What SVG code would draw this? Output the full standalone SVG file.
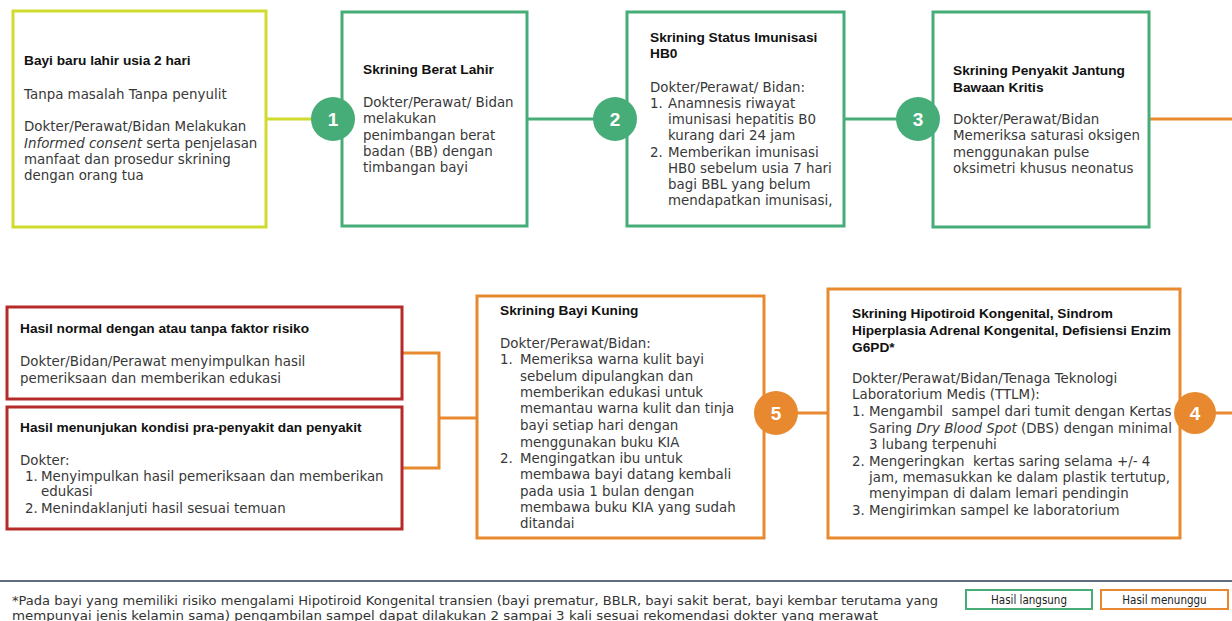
<svg xmlns="http://www.w3.org/2000/svg" width="1232" height="621" viewBox="0 0 1232 621">
<style>
  .box { fill: #ffffff; stroke-width: 3; }
  .yg { stroke: #cfdc2e; }
  .gr { stroke: #47ad78; }
  .or { stroke: #e8892f; }
  .rd { stroke: #b52b2a; }
  .ttl { font-family: "Liberation Sans", Arial, sans-serif; font-weight: bold; font-size: 13.7px; fill: #111111; }
  .bd { font-family: "DejaVu Sans", "Noto Sans", sans-serif; font-size: 13.4px; fill: #383838; }
  .num { font-family: "Liberation Sans", Arial, sans-serif; font-weight: bold; font-size: 19px; fill: #ffffff; text-anchor: middle; }
  .ln { fill: none; stroke-width: 3; }
  .cg { fill: #47ad78; }
  .co { fill: #e8892f; }
  .ft { font-family: "DejaVu Sans Condensed", "DejaVu Sans", sans-serif; font-size: 12.5px; fill: #333333; }
  .lg { font-family: "DejaVu Sans Condensed", "DejaVu Sans", sans-serif; font-size: 11.5px; fill: #222222; text-anchor: middle; }
</style>

<g id="connectors">
  <line class="ln yg" x1="266" y1="119" x2="315" y2="119"/>
  <line class="ln gr" x1="527" y1="119" x2="597" y2="119"/>
  <line class="ln gr" x1="844" y1="119" x2="900" y2="119"/>
  <line class="ln or" x1="1149" y1="119" x2="1232" y2="119"/>
  <line class="ln or" x1="1210" y1="413" x2="1232" y2="413"/>
  <line class="ln or" x1="790" y1="413" x2="828" y2="413"/>
  <polyline class="ln or" points="402,353 439,353 439,468 402,468"/>
  <line class="ln or" x1="439" y1="418" x2="478" y2="418"/>
</g>

<g id="node-start">
  <rect class="box yg" x="13" y="11" width="253" height="216"/>
  <text class="ttl" x="24" y="65">Bayi baru lahir usia 2 hari</text>
  <text class="bd" x="24" y="99">Tanpa masalah Tanpa penyulit</text>
  <text class="bd" x="24" y="131">Dokter/Perawat/Bidan Melakukan</text>
  <text class="bd" x="24" y="147.5"><tspan font-style="italic">Informed consent</tspan> serta penjelasan</text>
  <text class="bd" x="24" y="164">manfaat dan prosedur skrining</text>
  <text class="bd" x="24" y="180">dengan orang tua</text>
</g>

<g id="node-1">
  <rect class="box gr" x="342" y="12" width="185" height="214"/>
  <text class="ttl" x="363" y="74">Skrining Berat Lahir</text>
  <text class="bd" x="363" y="107">Dokter/Perawat/ Bidan</text>
  <text class="bd" x="363" y="123">melakukan</text>
  <text class="bd" x="363" y="139.5">penimbangan berat</text>
  <text class="bd" x="363" y="155.5">badan (BB) dengan</text>
  <text class="bd" x="363" y="172">timbangan bayi</text>
  <circle class="cg" cx="333" cy="119" r="22"/>
  <text class="num" x="333" y="126">1</text>
</g>

<g id="node-2">
  <rect class="box gr" x="627" y="12" width="217" height="214"/>
  <text class="ttl" x="650" y="42">Skrining Status Imunisasi</text>
  <text class="ttl" x="650" y="58">HB0</text>
  <text class="bd" x="650" y="92">Dokter/Perawat/ Bidan:</text>
  <text class="bd" x="650" y="108">1.</text>
  <text class="bd" x="668" y="108">Anamnesis riwayat</text>
  <text class="bd" x="668" y="124">imunisasi hepatitis B0</text>
  <text class="bd" x="668" y="140">kurang dari 24 jam</text>
  <text class="bd" x="650" y="157">2.</text>
  <text class="bd" x="668" y="157">Memberikan imunisasi</text>
  <text class="bd" x="668" y="173">HB0 sebelum usia 7 hari</text>
  <text class="bd" x="668" y="189">bagi BBL yang belum</text>
  <text class="bd" x="668" y="205">mendapatkan imunisasi,</text>
  <circle class="cg" cx="615" cy="119" r="22"/>
  <text class="num" x="615" y="126">2</text>
</g>

<g id="node-3">
  <rect class="box gr" x="933" y="12" width="216" height="215"/>
  <text class="ttl" x="953" y="75">Skrining Penyakit Jantung</text>
  <text class="ttl" x="953" y="92">Bawaan Kritis</text>
  <text class="bd" x="953" y="124">Dokter/Perawat/Bidan</text>
  <text class="bd" x="953" y="140">Memeriksa saturasi oksigen</text>
  <text class="bd" x="953" y="157">menggunakan pulse</text>
  <text class="bd" x="953" y="173">oksimetri khusus neonatus</text>
  <circle class="cg" cx="918" cy="119" r="22"/>
  <text class="num" x="918" y="126">3</text>
</g>

<g id="node-4">
  <rect class="box or" x="828" y="289" width="352" height="249"/>
  <text class="ttl" x="852" y="318">Skrining Hipotiroid Kongenital, Sindrom</text>
  <text class="ttl" x="852" y="335">Hiperplasia Adrenal Kongenital, Defisiensi Enzim</text>
  <text class="ttl" x="852" y="352">G6PD*</text>
  <text class="bd" x="852" y="383">Dokter/Perawat/Bidan/Tenaga Teknologi</text>
  <text class="bd" x="852" y="399">Laboratorium Medis (TTLM):</text>
  <text class="bd" x="852" y="416">1.</text>
  <text class="bd" x="869" y="416" xml:space="preserve">Mengambil  sampel dari tumit dengan Kertas</text>
  <text class="bd" x="869" y="433">Saring <tspan font-style="italic">Dry Blood Spot</tspan> (DBS) dengan minimal</text>
  <text class="bd" x="869" y="449">3 lubang terpenuhi</text>
  <text class="bd" x="852" y="466">2.</text>
  <text class="bd" x="869" y="466" xml:space="preserve">Mengeringkan  kertas saring selama +/- 4</text>
  <text class="bd" x="869" y="482">jam, memasukkan ke dalam plastik tertutup,</text>
  <text class="bd" x="869" y="498">menyimpan di dalam lemari pendingin</text>
  <text class="bd" x="852" y="515">3.</text>
  <text class="bd" x="869" y="515">Mengirimkan sampel ke laboratorium</text>
  <circle class="co" cx="1195" cy="413" r="21"/>
  <text class="num" x="1195" y="420">4</text>
</g>

<g id="node-5">
  <rect class="box or" x="477" y="296" width="287" height="242"/>
  <text class="ttl" x="500" y="315">Skrining Bayi Kuning</text>
  <text class="bd" x="500" y="348">Dokter/Perawat/Bidan:</text>
  <text class="bd" x="500" y="364">1.</text>
  <text class="bd" x="520" y="364">Memeriksa warna kulit bayi</text>
  <text class="bd" x="520" y="381">sebelum dipulangkan dan</text>
  <text class="bd" x="520" y="397">memberikan edukasi untuk</text>
  <text class="bd" x="520" y="413">memantau warna kulit dan tinja</text>
  <text class="bd" x="520" y="430">bayi setiap hari dengan</text>
  <text class="bd" x="520" y="447">menggunakan buku KIA</text>
  <text class="bd" x="500" y="463">2.</text>
  <text class="bd" x="520" y="463">Mengingatkan ibu untuk</text>
  <text class="bd" x="520" y="479">membawa bayi datang kembali</text>
  <text class="bd" x="520" y="496">pada usia 1 bulan dengan</text>
  <text class="bd" x="520" y="512">membawa buku KIA yang sudah</text>
  <text class="bd" x="520" y="528">ditandai</text>
  <circle class="co" cx="776" cy="413" r="22"/>
  <text class="num" x="776" y="420">5</text>
</g>

<g id="node-normal">
  <rect class="box rd" x="7" y="307" width="395" height="92"/>
  <text class="ttl" x="20" y="333">Hasil normal dengan atau tanpa faktor risiko</text>
  <text class="bd" x="20" y="366">Dokter/Bidan/Perawat menyimpulkan hasil</text>
  <text class="bd" x="20" y="383">pemeriksaan dan memberikan edukasi</text>
</g>

<g id="node-penyakit">
  <rect class="box rd" x="7" y="407" width="395" height="122"/>
  <text class="ttl" x="20" y="432">Hasil menunjukan kondisi pra-penyakit dan penyakit</text>
  <text class="bd" x="20" y="465">Dokter:</text>
  <text class="bd" x="25" y="481">1.</text>
  <text class="bd" x="41" y="481">Menyimpulkan hasil pemeriksaan dan memberikan</text>
  <text class="bd" x="41" y="496">edukasi</text>
  <text class="bd" x="25" y="513">2.</text>
  <text class="bd" x="41" y="513">Menindaklanjuti hasil sesuai temuan</text>
</g>

<g id="footer">
  <line x1="0" y1="581" x2="1232" y2="581" stroke="#2e3a55" stroke-width="1.5"/>
  <text class="ft" x="12" y="605" textLength="926" lengthAdjust="spacingAndGlyphs">*Pada bayi yang memiliki risiko mengalami Hipotiroid Kongenital transien (bayi prematur, BBLR, bayi sakit berat, bayi kembar terutama yang</text>
  <text class="ft" x="12" y="620" textLength="866" lengthAdjust="spacingAndGlyphs">mempunyai jenis kelamin sama) pengambilan sampel dapat dilakukan 2 sampai 3 kali sesuai rekomendasi dokter yang merawat</text>
</g>

<g id="legend-langsung">
  <rect x="966" y="590" width="126" height="19" fill="#ffffff" stroke="#47ad78" stroke-width="2"/>
  <text class="lg" x="1029" y="604">Hasil langsung</text>
</g>
<g id="legend-menunggu">
  <rect x="1101" y="590" width="127" height="19" fill="#ffffff" stroke="#e8892f" stroke-width="2"/>
  <text class="lg" x="1164.5" y="604">Hasil menunggu</text>
</g>
</svg>
